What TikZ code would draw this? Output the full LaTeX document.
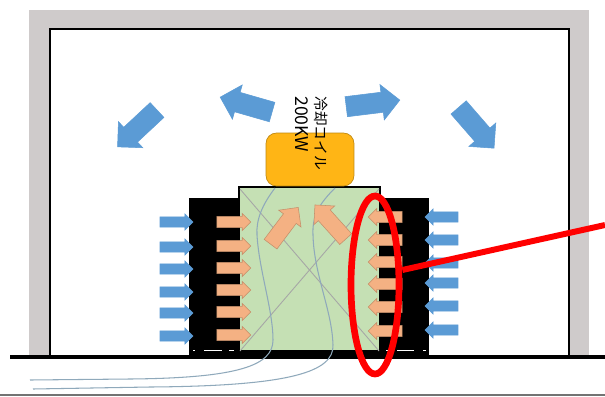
\documentclass[tikz,border=0pt]{standalone}
\usepackage{fontspec}
\usepackage{tikz}
\usetikzlibrary{shapes.arrows,shapes.geometric}
\newfontfamily\cjkfont{Noto Sans CJK JP}
\definecolor{wallgray}{HTML}{CFCBCB}
\definecolor{airblue}{HTML}{5B9BD5}
\definecolor{airorange}{HTML}{F4B183}
\definecolor{roomgreen}{HTML}{C5E0B4}
\definecolor{coilyellow}{HTML}{FFB515}
\definecolor{pipeblue}{HTML}{8FA9BB}

\begin{document}
\begin{tikzpicture}[x=0.02cm,y=-0.02cm]
  \tikzset{arrow/.style={single arrow,inner xsep=0pt,anchor=center,line width=0.3pt}}
  \tikzset{blueSmall/.style={arrow,fill=airblue,draw=airblue,minimum height=0.66cm,inner ysep=2.7pt,single arrow head extend=1.8pt}}
  \tikzset{orangeSmall/.style={arrow,fill=airorange,draw=airorange!80!black,minimum height=0.68cm,inner ysep=3pt,single arrow head extend=1.7pt}}
  \tikzset{blueBig/.style={arrow,fill=airblue,draw=airblue,minimum height=1.08cm,inner ysep=5.6pt,single arrow head extend=4.4pt}}
  \tikzset{orangeBig/.style={arrow,fill=airorange,draw=airorange!80!black,minimum height=0.92cm,inner ysep=4.4pt,single arrow head extend=3.4pt}}
  \useasboundingbox (0,0) rectangle (605,396);
  \fill[white] (0,0) rectangle (605,396);
  % building
  \fill[wallgray] (29,10) rectangle (589,355);
  \draw[fill=white,line width=1.6pt] (50,355) -- (50,29) -- (569,29) -- (569,355);
  \draw[black!55,line width=0.7pt] (0,395) -- (605,395);
  % machine room
  \fill[black] (189,198) rectangle (239,350);
  \fill[black] (380,198) rectangle (429,350);
  \draw[fill=roomgreen,line width=1.4pt] (239,352) -- (239,187) -- (380,187) -- (380,352);
  \fill[black] (189,350) rectangle (429,357);
  \foreach \x/\w in {193/2,204/18,229/5,386/4,397/17,423/3}
    \fill[white] (\x,349.5) rectangle ++(\w,1.6);
  \draw[black,line width=2.2pt] (10,357) -- (605,357);
  % coil
  \node[draw=coilyellow!75!black,fill=coilyellow,rounded corners=6pt,minimum width=1.76cm,minimum height=1.06cm,line width=0.4pt] (coil) at (310,159.5) {};
  % diagonals and pipes
  \draw[gray!70,line width=0.5pt] (240,189) -- (379,351);
  \draw[gray!70,line width=0.5pt] (379,189) -- (240,351);
  \draw[pipeblue,line width=0.6pt] (275,188) .. controls (262,205) and (256,220) .. (257,235)
    .. controls (259,270) and (273,310) .. (273,340) .. controls (273,365) and (240,378) .. (130,379) -- (30,380);
  \draw[pipeblue,line width=0.6pt] (335,188) .. controls (320,203) and (312,215) .. (313,235)
    .. controls (314,275) and (332,310) .. (333,345) .. controls (334,372) and (290,386) .. (150,387) -- (33,389);
  % air arrows
  \foreach \y [count=\i] in {222,247,269,292,313,336}
    \node[blueSmall] (inL\i) at (174,\y) {};
  \foreach \y [count=\i] in {217,240,263,283,306,330}
    \node[blueSmall,rotate=180] (inR\i) at (444,\y) {};
  \foreach \y [count=\i] in {222,246,268,290,312,335}
    \node[orangeSmall] (outL\i) at (231,\y) {};
  \foreach \y [count=\i] in {217,240,262,284,307,331}
    \node[orangeSmall,rotate=180] (outR\i) at (388,\y) {};
  \node[orangeBig,rotate=53] (upL) at (282,229) {};
  \node[orangeBig,rotate=132] (upR) at (333,225) {};
  \node[blueBig,rotate=223] (ventA) at (141,125) {};
  \node[blueBig,rotate=164] (ventB) at (251,106) {};
  \node[blueBig,rotate=7] (ventC) at (368,104) {};
  \node[blueBig,rotate=-49] (ventD) at (473,124) {};
  % label
  \node[rotate=-90,align=left,font=\fontsize{8.4pt}{11.3pt}\selectfont\cjkfont,inner sep=0pt,anchor=north west] (coilLabel) at (328,96) {冷却コイル\\{\fontsize{10pt}{11.3pt}\selectfont 200KW}};
  % callout
  \coordinate (calloutEnd) at (605,225);
  \node[draw=red,line width=3.8pt,ellipse,minimum width=0.96cm,minimum height=3.56cm,inner sep=0pt] (mark) at (375,285) {};
  \draw[red,line width=3.4pt] (mark.east) ++(0,-15) coordinate (markStart) -- (calloutEnd);
\end{tikzpicture}
\end{document}
